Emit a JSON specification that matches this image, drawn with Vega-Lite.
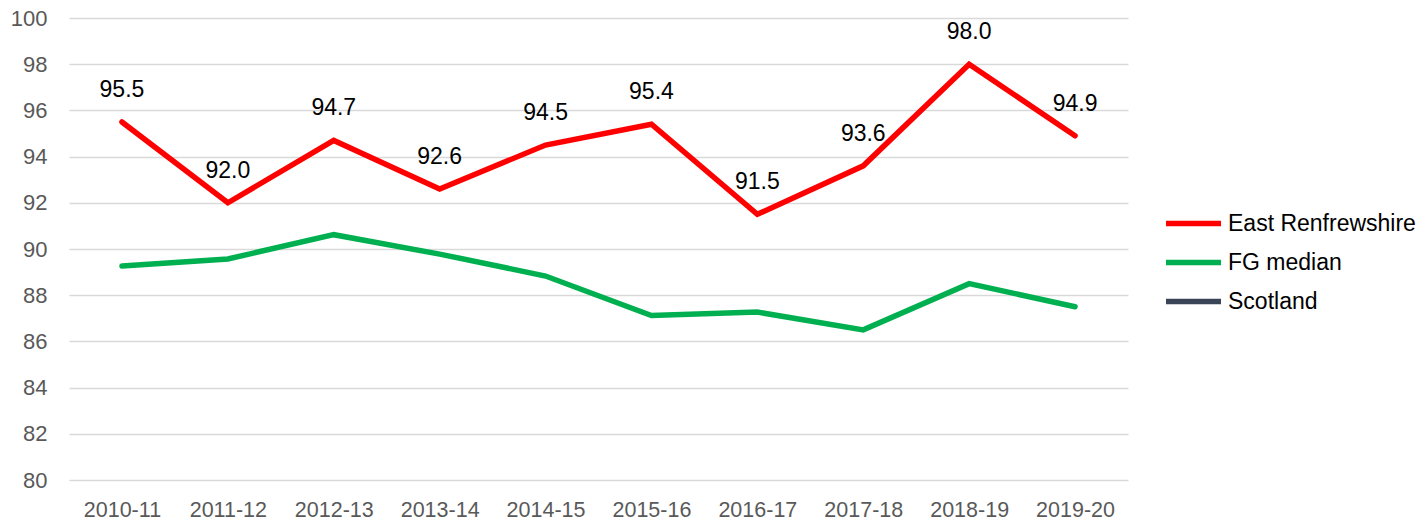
{
  "$schema": "https://vega.github.io/schema/vega-lite/v6.json",
  "width": 1059,
  "height": 462,
  "autosize": {"type": "none"},
  "padding": {"left": 69, "top": 18, "right": 299, "bottom": 44},
  "background": "white",
  "config": {
    "view": {"stroke": null},
    "font": "Liberation Sans"
  },
  "data": {
    "values": [
      {"year": "2010-11", "series": "East Renfrewshire", "value": 95.5},
      {"year": "2011-12", "series": "East Renfrewshire", "value": 92.0},
      {"year": "2012-13", "series": "East Renfrewshire", "value": 94.7},
      {"year": "2013-14", "series": "East Renfrewshire", "value": 92.6},
      {"year": "2014-15", "series": "East Renfrewshire", "value": 94.5},
      {"year": "2015-16", "series": "East Renfrewshire", "value": 95.4},
      {"year": "2016-17", "series": "East Renfrewshire", "value": 91.5},
      {"year": "2017-18", "series": "East Renfrewshire", "value": 93.6},
      {"year": "2018-19", "series": "East Renfrewshire", "value": 98.0},
      {"year": "2019-20", "series": "East Renfrewshire", "value": 94.9},
      {"year": "2010-11", "series": "FG median", "value": 89.26},
      {"year": "2011-12", "series": "FG median", "value": 89.57},
      {"year": "2012-13", "series": "FG median", "value": 90.62},
      {"year": "2013-14", "series": "FG median", "value": 89.78},
      {"year": "2014-15", "series": "FG median", "value": 88.83},
      {"year": "2015-16", "series": "FG median", "value": 87.12},
      {"year": "2016-17", "series": "FG median", "value": 87.27},
      {"year": "2017-18", "series": "FG median", "value": 86.5},
      {"year": "2018-19", "series": "FG median", "value": 88.5},
      {"year": "2019-20", "series": "FG median", "value": 87.5}
    ]
  },
  "encoding": {
    "x": {
      "field": "year",
      "type": "nominal",
      "sort": null,
      "scale": {"type": "point", "padding": 0.5},
      "axis": {
        "title": null,
        "labelAngle": 0,
        "domain": false,
        "ticks": false,
        "labelFontSize": 21.5,
        "labelColor": "#595959",
        "labelPadding": 19
      }
    },
    "y": {
      "field": "value",
      "type": "quantitative",
      "scale": {"domain": [80, 100], "nice": false, "zero": false},
      "axis": {
        "title": null,
        "values": [80, 82, 84, 86, 88, 90, 92, 94, 96, 98, 100],
        "domain": false,
        "ticks": false,
        "grid": true,
        "gridColor": "#d9d9d9",
        "gridWidth": 1.5,
        "labelFontSize": 22,
        "labelColor": "#595959",
        "labelPadding": 22
      }
    }
  },
  "layer": [
    {
      "mark": {"type": "line", "strokeWidth": 5.5, "strokeCap": "round", "strokeJoin": "miter"},
      "encoding": {
        "color": {
          "field": "series",
          "type": "nominal",
          "scale": {
            "domain": ["East Renfrewshire", "FG median", "Scotland"],
            "range": ["#ff0000", "#00b050", "#3a4457"]
          },
          "legend": {
            "title": null,
            "orient": "none",
            "legendX": 1108,
            "legendY": 189,
            "symbolType": "M-2,0H2",
            "symbolSize": 756,
            "symbolStrokeWidth": 5.5,
            "labelFontSize": 23,
            "labelColor": "#000000",
            "labelOffset": 18,
            "rowPadding": 10,
            "labelLimit": 300
          }
        }
      }
    },
    {
      "transform": [{"filter": "datum.series === 'East Renfrewshire'"}],
      "mark": {"type": "text", "dy": -25, "baseline": "alphabetic", "fontSize": 23, "color": "#000000"},
      "encoding": {
        "text": {"field": "value", "type": "quantitative", "format": ".1f"}
      }
    }
  ]
}
